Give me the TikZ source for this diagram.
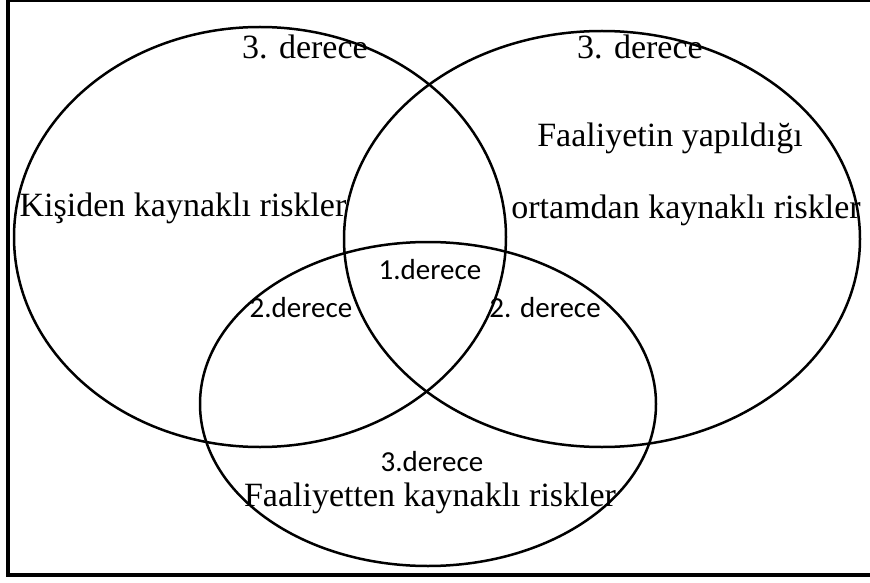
\documentclass[tikz,border=0pt]{standalone}
\usepackage{fontspec}
\setmainfont{Liberation Serif}
\newfontfamily\calibri{Carlito}
\usetikzlibrary{positioning}
\tikzset{
  ring/.style={draw,line width=2.5pt},
  big/.style={inner sep=1pt,font=\fontsize{34}{40}\selectfont},
  small/.style={inner sep=1pt,font=\calibri\fontsize{29}{34}\selectfont},
}
\begin{document}
\begin{tikzpicture}[x=1pt,y=-1pt]
\useasboundingbox (0,0) rectangle (870,583);
% frame
\draw[line width=1.5pt] (8,1) -- (880,1);
\draw[line width=4pt] (8,0) -- (8,575) -- (880,575);
% circles
\coordinate (L) at (260,237);
\coordinate (R) at (602,239);
\coordinate (B) at (428,404);
\draw[ring] (L) ellipse [x radius=246, y radius=210];
\draw[ring] (R) ellipse [x radius=258, y radius=208];
\draw[ring] (B) ellipse [x radius=228, y radius=162];
% labels
\node[big] (l3) at (305,47) {3. derece};
\node[big] (r3) at (640,47) {3. derece};
\node[big] (rt1) at (670,138) {Faaliyetin yapıldığı};
\node[big] (lt) at (183,208) {Kişiden kaynaklı riskler};
\node[big] (rt2) at (686,210) {ortamdan kaynaklı riskler};
\node[big] (bt) at (430,498) {Faaliyetten kaynaklı riskler};
\node[small] (d1) at (430,270) {1.derece};
\node[small] (d2l) at (301,308) {2.derece};
\node[small] (d2r) at (545,308) {2. derece};
\node[small] (d3) at (432,462) {3.derece};
\end{tikzpicture}
\end{document}
